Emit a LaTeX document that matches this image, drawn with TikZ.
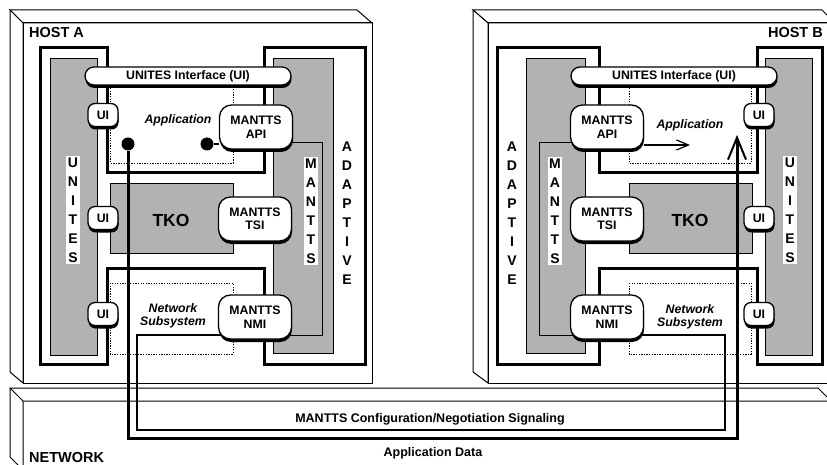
\documentclass[tikz,border=0pt]{standalone}
\usepackage{fontspec}
\setmainfont{Liberation Sans}
\usetikzlibrary{arrows.meta,shadows,calc}
\pgfdeclarelayer{back}
\pgfdeclarelayer{mid}
\pgfsetlayers{back,mid,main}
\tikzset{
  thickln/.style={line width=3pt, line join=miter},
  thinln/.style={line width=1pt},
  stip/.style={draw, line width=0.9pt, fill=black!30},
  dotbox/.style={draw, line width=0.8pt, dash pattern=on 1.3pt off 1.3pt},
  shad/.style={drop shadow={shadow xshift=0.5pt, shadow yshift=-3pt, fill=black, opacity=1}},
  mbox/.style={draw, line width=1.3pt, fill=white, rounded corners=12pt, minimum width=73pt, minimum height=44pt, align=center, font=\fontsize{12.3}{13.5}\selectfont\bfseries, inner sep=1pt, shad},
  uibox/.style={draw, line width=1.3pt, fill=white, rounded corners=7pt, minimum width=30pt, minimum height=23pt, inner sep=1pt, font=\fontsize{12.3}{14}\selectfont\bfseries, shad},
  uibar/.style={draw, line width=1.3pt, fill=white, rounded corners=9pt, minimum width=206pt, minimum height=18pt, inner sep=1pt, font=\fontsize{12.3}{14}\selectfont\bfseries, shad},
  vlet/.style={align=center, font=\fontsize{14}{19}\selectfont\bfseries, inner sep=1.5pt},
  lbl/.style={font=\fontsize{12.5}{14}\selectfont\bfseries},
  ilbl/.style={font=\fontsize{12.3}{13.5}\selectfont\bfseries\itshape, align=center},
  bigl/.style={font=\fontsize{14.5}{16}\selectfont\bfseries, inner sep=0pt},
  tkol/.style={font=\fontsize{17.5}{20}\selectfont\bfseries},
  bulletdot/.style={circle, fill=black, inner sep=0pt, minimum size=13pt},
  dataln/.style={line width=3pt},
  sigln/.style={line width=1.2pt},
}
\begin{document}
\begin{tikzpicture}[x=1pt,y=-1pt]
\useasboundingbox (0,0) rectangle (827,465);

% ---------- HOST A nodes ----------
\node[uibar] (barA) at (188,76) {UNITES Interface (UI)};
\node[mbox] (apiA) at (256,127) {MANTTS\\API};
\node[mbox] (tsiA) at (255,219) {MANTTS\\TSI};
\node[mbox] (nmiA) at (255,317) {MANTTS\\NMI};
\node[uibox] (uiA1) at (103,115) {UI};
\node[uibox] (uiA2) at (103,218) {UI};
\node[uibox] (uiA3) at (103,314) {UI};
\node[ilbl] (appA) at (178,120) {Application};
\node[tkol] (tkoA) at (171,220) {TKO};
\node[ilbl] (netA) at (173,316) {Network\\Subsystem};
\node[bigl, anchor=west] (hostA) at (29,33) {HOST A};
\node[vlet, fill=white] (unitesA) at (73,210) {U\\N\\I\\T\\E\\S};
\node[vlet, fill=white] (manttsA) at (311,211) {M\\A\\N\\T\\T\\S};
\node[vlet] (adaptA) at (347,213) {A\\D\\A\\P\\T\\I\\V\\E};
\node[bulletdot] (dA) at (128,144) {};
\node[bulletdot] (dA2) at (207,144) {};

% ---------- HOST B nodes ----------
\node[uibar] (barB) at (674,76) {UNITES Interface (UI)};
\node[mbox] (apiB) at (607,127) {MANTTS\\API};
\node[mbox] (tsiB) at (607,219) {MANTTS\\TSI};
\node[mbox] (nmiB) at (607,317) {MANTTS\\NMI};
\node[uibox] (uiB1) at (759,115) {UI};
\node[uibox] (uiB2) at (759,218) {UI};
\node[uibox] (uiB3) at (759,314) {UI};
\node[ilbl] (appB) at (690,125) {Application};
\node[tkol] (tkoB) at (690,220) {TKO};
\node[ilbl] (netB) at (690,317) {Network\\Subsystem};
\node[bigl, anchor=east] (hostB) at (823,33) {HOST B};
\node[vlet, fill=white] (unitesB) at (790,210) {U\\N\\I\\T\\E\\S};
\node[vlet, fill=white] (manttsB) at (555,211) {M\\A\\N\\T\\T\\S};
\node[vlet] (adaptB) at (512,213) {A\\D\\A\\P\\T\\I\\V\\E};

% ---------- NETWORK labels ----------
\node[bigl, anchor=west] (netw) at (29,458) {NETWORK};
\node[lbl] (sigtxt) at (430,419) {MANTTS Configuration/Negotiation Signaling};
\node[lbl] (datatxt) at (433,453) {Application Data};

\coordinate (sigL) at (137,430);
\coordinate (sigR) at (725,430);
\coordinate (dataturn) at (737,438);
\coordinate (appTip) at (737,135);
\coordinate (apiTip) at (690,145);

% ---------- background structure ----------
\begin{pgfonlayer}{back}
  % host A box
  \draw[thinln, fill=white] (10,10) -- (357,10) -- (372,23) -- (23,23) -- cycle;
  \draw[thinln, fill=white] (10,10) -- (10,372) -- (23,383) -- (23,23) -- cycle;
  \draw[thinln] (23,23) rectangle (372,383);
  % host B box
  \draw[thinln, fill=white] (473,10) -- (822,10) -- (835,23) -- (488,23) -- cycle;
  \draw[thinln, fill=white] (473,10) -- (473,372) -- (488,383) -- (488,23) -- cycle;
  \draw[thinln] (488,23) rectangle (835,383);
  % network box
  \draw[thinln] (10,388) -- (818,388) -- (831,401) -- (23,401) -- cycle;
  \draw[thinln] (10,388) -- (10,457) -- (23,470) -- (23,401);

  % host A internals
  \draw[stip] (50,58) rectangle (97,355);
  \draw[stip] (110,183) rectangle (233,253);
  \draw[stip] (273,58) rectangle (333,353);
  \draw[thinln] (288,143) -- (322,143) -- (322,335) -- (288,335);
  \draw[thickln] (40,48) -- (107,48) -- (107,173) -- (264,173) -- (264,48) -- (365,48)
     -- (365,364) -- (264,364) -- (264,268) -- (107,268) -- (107,364) -- (40,364) -- cycle;
  \draw[dotbox] (110,83) rectangle (233,163);
  \draw[dotbox] (110,283) rectangle (233,354);

  % host B internals
  \draw[stip] (765,58) rectangle (812,355);
  \draw[stip] (629,183) rectangle (752,253);
  \draw[stip] (526,58) rectangle (585,353);
  \draw[thinln] (575,143) -- (539,143) -- (539,335) -- (575,335);
  \draw[thickln] (822,48) -- (757,48) -- (757,173) -- (599,173) -- (599,48) -- (497,48)
     -- (497,364) -- (599,364) -- (599,268) -- (757,268) -- (757,364) -- (822,364) -- cycle;
  \draw[dotbox] (629,83) rectangle (751,163);
  \draw[dotbox] (629,283) rectangle (751,354);
\end{pgfonlayer}

% ---------- connectors ----------
\begin{pgfonlayer}{mid}
  \draw[sigln] (nmiA) ++(0,18) -| (sigL) -- (sigR) |- ($(nmiB)+(0,18)$);
  \draw[dataln, -{Straight Barb[length=22pt,width=18pt,line width=2pt]}]
     (dA) |- (dataturn) -- (appTip);
  \draw[sigln] (dA2) -- (dA2 -| apiA.west);
  \draw[sigln, -{Straight Barb[length=12pt,width=10pt,line width=1.2pt]}]
     (apiB.east |- apiTip) -- (apiTip);
\end{pgfonlayer}
\end{tikzpicture}
\end{document}
